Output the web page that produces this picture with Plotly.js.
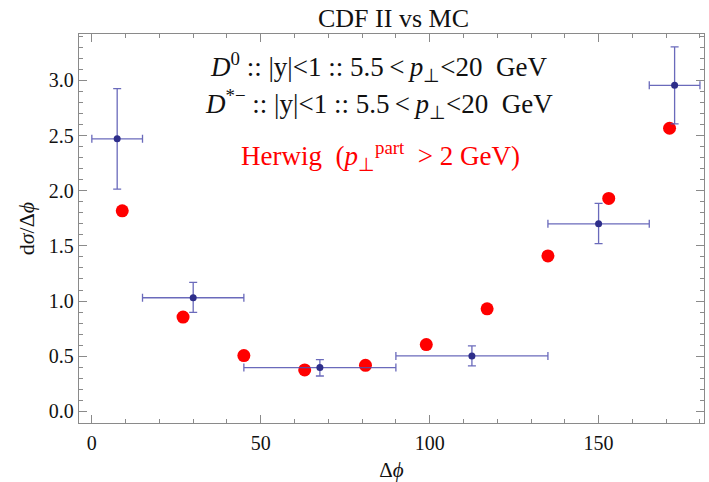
<!DOCTYPE html>
<html>
<head>
<meta charset="utf-8">
<script src="https://cdn.plot.ly/plotly-3.0.1.min.js"></script>
<style>html,body{margin:0;padding:0;background:#fff;}#chart{width:709px;height:482px;}</style>
</head>
<body>
<div id="chart"></div>
<script>
// CDF II data: bin edges, central values and error limits
const cdfBinLow  = [0, 15, 45, 90, 135, 165];
const cdfBinHigh = [15, 45, 90, 135, 165, 180];
const cdfY       = [2.47, 1.03, 0.397, 0.503, 1.70, 2.955];
const cdfYUpper  = [2.925, 1.17, 0.47, 0.594, 1.885, 3.303];
const cdfYLower  = [2.015, 0.897, 0.321, 0.412, 1.521, 2.605];

// Herwig MC points
const herwigX = [9, 27, 45, 63, 81, 99, 117, 135, 153, 171];
const herwigY = [1.818, 0.855, 0.506, 0.376, 0.418, 0.606, 0.930, 1.409, 1.93, 2.566];

const xTickVals = [0, 50, 100, 150];
const yTickVals = [0.0, 0.5, 1.0, 1.5, 2.0, 2.5, 3.0];
const yTickText = ['0.0', '0.5', '1.0', '1.5', '2.0', '2.5', '3.0'];

const cdfX = cdfBinLow.map((lo, i) => (lo + cdfBinHigh[i]) / 2);
const cdfXErr = cdfBinLow.map((lo, i) => (cdfBinHigh[i] - lo) / 2);
const cdfErrPlus = cdfY.map((v, i) => cdfYUpper[i] - v);
const cdfErrMinus = cdfY.map((v, i) => v - cdfYLower[i]);

const serif = 'Liberation Serif, Times New Roman, serif';
const errColor = 'rgba(80,80,175,0.85)';

const traces = [
  {
    x: herwigX, y: herwigY, type: 'scatter', mode: 'markers',
    marker: {color: '#ff0000', size: 13},
    hoverinfo: 'x+y', showlegend: false
  },
  {
    x: cdfX, y: cdfY, type: 'scatter', mode: 'markers',
    marker: {color: '#2e2e8a', size: 7},
    error_x: {type: 'data', array: cdfXErr, color: errColor, thickness: 1.3, width: 4},
    error_y: {type: 'data', symmetric: false, array: cdfErrPlus, arrayminus: cdfErrMinus, color: errColor, thickness: 1.3, width: 4},
    showlegend: false
  }
];

const axisCommon = {
  showgrid: false, zeroline: false, showline: true, linecolor: '#8a8a8a', linewidth: 1.3,
  mirror: 'allticks', ticks: 'inside', ticklen: 8, tickcolor: '#8a8a8a', tickwidth: 1,
  tickfont: {family: serif, size: 20, color: '#111'}
};

const layout = {
  width: 709, height: 482,
  margin: {l: 79, r: 5, t: 34, b: 59},
  paper_bgcolor: '#fff', plot_bgcolor: '#fff',
  title: {text: 'CDF II vs MC', font: {family: serif, size: 26, color: '#111'}, x: 0.555, xanchor: 'center', y: 0.962, yanchor: 'middle'},
  xaxis: Object.assign({}, axisCommon, {
    range: [-3.8, 181.2], tickvals: xTickVals, ticktext: xTickVals.map(String),
    ticklabelstandoff: 2,
    minor: {dtick: 10, tick0: 0, ticks: 'inside', ticklen: 4, tickcolor: '#8a8a8a'},
    title: {text: 'Δ<i>ϕ</i>', font: {family: serif, size: 21, color: '#111'}, standoff: 14}
  }),
  yaxis: Object.assign({}, axisCommon, {
    range: [-0.105, 3.42], tickvals: yTickVals, ticktext: yTickText,
    minor: {dtick: 0.1, tick0: 0, ticks: 'inside', ticklen: 4, tickcolor: '#8a8a8a'},
    title: {text: 'd<i>σ</i>/Δ<i>ϕ</i>', font: {family: serif, size: 22, color: '#111'}, standoff: 8}
  }),
  annotations: [
    {xref: 'paper', yref: 'paper', x: 0.48, y: 0.916, xanchor: 'center', yanchor: 'middle', showarrow: false,
     text: '<i>D</i><sup>0</sup> :: |y|&lt;1 :: 5.5\u2009&lt;\u2009<i>p</i><sub>⊥</sub>&lt;20  GeV',
     font: {family: serif, size: 27, color: '#111'}},
    {xref: 'paper', yref: 'paper', x: 0.48, y: 0.82, xanchor: 'center', yanchor: 'middle', showarrow: false,
     text: '<i>D</i><sup>*−</sup> :: |y|&lt;1 :: 5.5\u2009&lt;\u2009<i>p</i><sub>⊥</sub>&lt;20  GeV',
     font: {family: serif, size: 27, color: '#111'}},
    {xref: 'paper', yref: 'paper', x: 0.482, y: 0.686, xanchor: 'center', yanchor: 'middle', showarrow: false,
     text: 'Herwig  (<i>p</i><sub>⊥</sub><sup>part</sup>  &gt; 2 GeV)',
     font: {family: serif, size: 27, color: '#ff0000'}}
  ]
};

Plotly.newPlot('chart', traces, layout, {displayModeBar: false, staticPlot: true});
</script>
</body>
</html>
